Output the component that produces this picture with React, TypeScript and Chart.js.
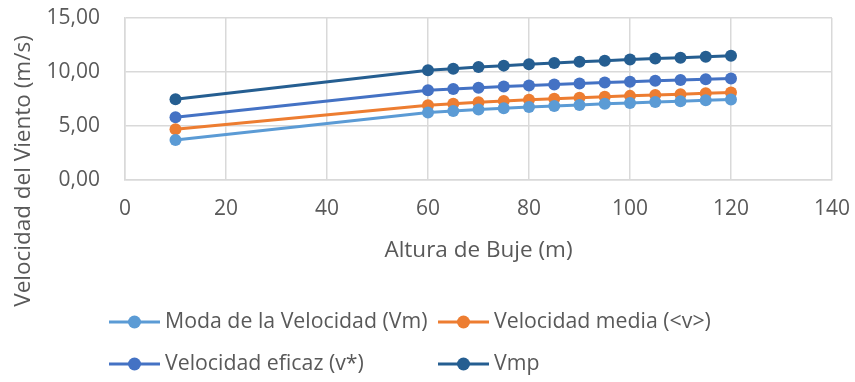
import React, { useEffect, useRef } from "react";
import { Chart, registerables } from "chart.js";

Chart.register(...registerables);

const heights = [10, 60, 65, 70, 75, 80, 85, 90, 95, 100, 105, 110, 115, 120];
const moda = [3.7, 6.25, 6.39, 6.52, 6.64, 6.75, 6.85, 6.95, 7.05, 7.13, 7.22, 7.3, 7.38, 7.45];
const media = [4.69, 6.93, 7.07, 7.19, 7.31, 7.42, 7.52, 7.61, 7.71, 7.79, 7.87, 7.95, 8.03, 8.1];
const eficaz = [5.8, 8.3, 8.43, 8.54, 8.65, 8.75, 8.85, 8.94, 9.02, 9.1, 9.18, 9.25, 9.32, 9.39];
const vmp = [7.47, 10.16, 10.31, 10.46, 10.59, 10.72, 10.83, 10.94, 11.05, 11.15, 11.24, 11.33, 11.42, 11.5];

const seriesLabels = [
  "Moda de la Velocidad (Vm)",
  "Velocidad media (<v>)",
  "Velocidad eficaz (v*)",
  "Vmp",
];
const seriesColors = ["#5B9BD5", "#ED7D31", "#4472C4", "#255E91"];
const seriesValues = [moda, media, eficaz, vmp];

const xTitle = "Altura de Buje (m)";
const yTitle = "Velocidad del Viento (m/s)";

const FONT = "'Open Sans'";
const TEXT = "#595959";
const GRID = "#D9D9D9";

const customPlugin = {
  id: "customDecor",
  afterDraw(chart: any) {
    const ctx = chart.ctx as CanvasRenderingContext2D;
    ctx.save();
    ctx.translate(24, 171);
    ctx.rotate(-Math.PI / 2);
    ctx.font = `22.5px ${FONT}`;
    ctx.fillStyle = TEXT;
    ctx.textAlign = "center";
    ctx.textBaseline = "middle";
    ctx.fillText(yTitle, 0, 0);
    ctx.restore();

    const cols = [109, 438];
    const rows = [322, 364];
    const lineLen = 51;
    chart.data.datasets.forEach((ds: any, i: number) => {
      const x = cols[i % 2];
      const y = rows[Math.floor(i / 2)];
      ctx.save();
      ctx.strokeStyle = ds.borderColor;
      ctx.lineWidth = 3;
      ctx.beginPath();
      ctx.moveTo(x, y);
      ctx.lineTo(x + lineLen, y);
      ctx.stroke();
      ctx.fillStyle = ds.backgroundColor;
      ctx.beginPath();
      ctx.arc(x + lineLen / 2, y, 6.5, 0, Math.PI * 2);
      ctx.fill();
      ctx.font = `21.3px ${FONT}`;
      ctx.fillStyle = TEXT;
      ctx.textAlign = "left";
      ctx.textBaseline = "middle";
      ctx.fillText(ds.label, x + lineLen + 5, y);
      ctx.restore();
    });
  },
};

export default function App() {
  const ref = useRef<HTMLCanvasElement | null>(null);
  useEffect(() => {
    if (!ref.current) return;
    const chart = new Chart(ref.current, {
      type: "line",
      data: {
        datasets: seriesValues.map((vals, i) => ({
          label: seriesLabels[i],
          data: heights.map((h, j) => ({ x: h, y: vals[j] })),
          borderColor: seriesColors[i],
          backgroundColor: seriesColors[i],
          borderWidth: 3,
          pointRadius: 6,
          pointHoverRadius: 6,
          pointBorderWidth: 0,
          tension: 0,
        })),
      },
      options: {
        animation: false,
        responsive: false,
        maintainAspectRatio: false,
        layout: { padding: { left: 0, right: 23, top: 18, bottom: 118 } },
        plugins: { legend: { display: false }, tooltip: { enabled: false } },
        scales: {
          x: {
            type: "linear",
            min: 0,
            max: 140,
            ticks: {
              stepSize: 20,
              color: TEXT,
              font: { family: FONT, size: 21 },
              padding: 0,
            },
            grid: {
              color: GRID,
              lineWidth: 1.5,
              drawTicks: true,
              tickLength: 16,
              tickColor: "rgba(0,0,0,0)",
            },
            border: { color: GRID, width: 1.5 },
            title: {
              display: true,
              text: xTitle,
              color: TEXT,
              font: { family: FONT, size: 22.5 },
              padding: 0,
            },
            afterFit: (s: any) => {
              s.height = 84;
            },
          },
          y: {
            min: 0,
            max: 15,
            ticks: {
              stepSize: 5,
              color: TEXT,
              font: { family: FONT, size: 21 },
              padding: 0,
              callback: (v: any) => Number(v).toFixed(2).replace(".", ","),
            },
            grid: {
              color: GRID,
              lineWidth: 1.5,
              drawTicks: true,
              tickLength: 25,
              tickColor: "rgba(0,0,0,0)",
            },
            border: { color: GRID, width: 1.5 },
            afterFit: (s: any) => {
              s.width = 125;
            },
          },
        },
      },
      plugins: [customPlugin],
    });
    return () => chart.destroy();
  }, []);
  return (
    <div style={{ position: "absolute", left: 0, top: 0, width: 855, height: 382, background: "#fff" }}>
      <canvas ref={ref} width={855} height={382} style={{ width: 855, height: 382 }} />
    </div>
  );
}
